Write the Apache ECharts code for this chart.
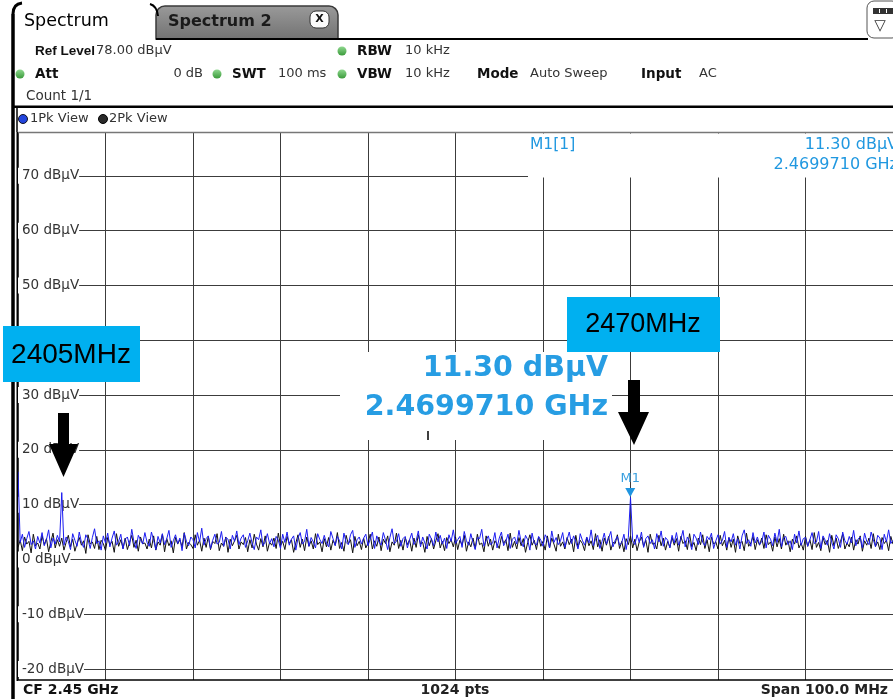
<!DOCTYPE html>
<html><head><meta charset="utf-8">
<script src="https://cdn.jsdelivr.net/npm/echarts@6/dist/echarts.min.js"></script>
<style>html,body{margin:0;padding:0;background:#fff;overflow:hidden}#c{width:893px;height:699px}</style>
</head><body><div id="c"></div><script>
// Sweep: CF 2.45 GHz, span 100 MHz, trace points every 0.25 MHz
const FREQ_START_MHZ = 2400;
const FREQ_STOP_MHZ = 2500;
const FREQ_STEP_MHZ = 0.25;
const FREQ_GRID_MHZ = 10;
const REF_LEVEL = 78;
const BOTTOM_LEVEL = -22;
const Y_TICKS = [-20, -10, 0, 10, 20, 30, 40, 50, 60, 70];
const Y_UNIT = 'dBµV';

// Trace 1: 1Pk View (blue)
const TRACE_1PK = [
16.0,3.1,4.6,2.2,3.8,5.1,2.7,3.4,1.9,4.2,3.0,4.9,2.5,3.6,5.4,2.1,3.9,2.8,4.4,3.2,
12.2,2.6,4.1,3.3,1.8,4.7,3.5,2.4,5.0,3.1,2.2,4.5,3.7,2.0,4.0,5.6,2.9,3.4,1.7,4.3,
3.0,4.8,2.3,3.9,5.2,2.6,3.3,4.6,1.9,3.7,4.1,2.5,5.5,3.2,2.0,4.4,3.6,2.8,4.9,3.1,
2.4,5.0,3.5,1.8,4.2,3.0,4.7,2.7,3.8,5.3,2.2,3.4,4.5,2.9,3.9,1.6,4.8,3.3,2.5,4.1,
3.6,2.1,4.9,3.2,5.7,2.6,3.8,4.3,2.0,3.5,4.6,2.8,3.1,5.1,2.4,4.0,3.7,1.9,4.4,3.3,
5.2,2.7,3.9,4.5,2.2,3.4,4.8,3.0,1.8,4.1,3.6,5.4,2.5,3.2,4.7,2.9,3.8,2.3,4.2,3.5,
2.0,4.6,3.1,5.0,2.6,3.7,4.3,1.7,3.9,4.9,2.8,3.3,5.5,2.4,4.0,3.2,2.1,4.7,3.6,2.9,
4.4,3.0,2.3,5.1,3.8,2.5,4.2,3.4,1.9,4.8,3.1,2.7,4.5,5.3,2.2,3.6,4.1,2.8,3.9,4.6,
2.5,3.7,5.0,2.0,4.3,3.2,2.6,4.9,3.5,1.8,4.0,5.6,2.9,3.3,4.7,2.4,3.8,4.2,2.1,3.6,
4.8,2.7,3.4,5.2,2.3,4.1,3.0,1.9,4.6,3.7,2.5,5.0,3.2,4.4,2.8,3.9,2.0,4.5,3.3,5.4,
2.9,3.6,4.2,2.2,5.1,3.4,2.6,4.7,3.1,1.8,4.0,3.8,5.5,2.4,3.5,4.3,2.7,3.0,4.9,2.1,
3.9,5.0,2.5,3.3,4.6,2.0,3.7,4.1,2.8,5.3,3.2,2.3,4.4,3.6,1.7,4.8,3.0,2.6,4.2,3.5,
2.4,4.5,3.8,2.1,5.2,3.1,4.0,2.7,3.4,4.9,2.2,3.6,5.0,2.9,4.3,3.2,1.9,4.7,3.5,2.6,
4.1,3.0,5.4,2.5,3.7,4.4,2.0,3.3,4.8,2.8,3.9,5.1,2.3,3.5,4.2,2.6,3.1,4.6,1.8,4.0,
11.3,3.4,2.7,4.5,3.1,5.0,2.2,3.8,4.3,2.9,3.6,1.9,4.7,3.2,5.2,2.4,4.0,3.5,2.1,4.4,
3.0,4.9,2.6,3.7,5.3,2.3,4.1,3.3,1.8,4.6,3.9,2.7,5.0,3.1,2.5,4.2,3.6,4.8,2.0,3.4,
4.5,2.8,3.5,5.1,2.2,4.0,3.2,4.7,2.6,3.8,1.9,4.3,5.4,2.9,3.6,2.4,4.9,3.0,4.1,2.7,
3.3,5.0,2.1,4.4,3.7,2.5,4.8,3.1,5.5,2.3,3.9,4.2,2.7,3.4,1.8,4.6,3.0,5.2,2.6,3.8,
4.0,2.4,3.6,4.9,2.9,3.2,5.1,2.0,4.3,3.5,2.6,4.7,3.1,1.9,4.5,3.8,2.2,5.0,3.4,2.8,
4.2,3.0,5.3,2.5,3.7,4.1,2.1,4.8,3.3,2.7,5.0,3.6,2.3,4.4,3.9,1.8,4.6,3.2,5.4,2.9,
3.5];

// Trace 2: 2Pk View (black)
const TRACE_2PK = [
2.2,3.5,1.6,4.1,2.8,3.3,1.2,4.6,2.5,3.0,1.9,4.3,2.7,3.8,1.4,3.2,4.8,2.1,3.6,2.4,
3.9,1.7,3.1,4.4,2.3,3.7,1.5,2.9,4.0,2.6,3.4,1.1,4.5,2.8,3.2,2.0,4.2,1.8,3.5,2.9,
1.6,4.0,2.7,3.3,1.3,4.7,2.4,3.6,2.0,3.9,1.8,3.1,4.4,2.2,3.5,1.5,4.1,2.9,3.0,1.9,
3.7,2.1,4.3,1.7,3.2,2.6,4.6,1.4,3.8,2.5,3.4,1.2,4.0,2.8,3.6,2.3,4.9,1.9,3.1,2.7,
2.0,4.5,2.6,3.5,1.5,3.9,2.2,4.2,1.8,3.3,2.9,4.7,1.6,3.0,2.4,4.1,1.3,3.7,2.5,3.4,
4.4,1.9,3.2,2.7,4.0,1.4,3.6,2.1,4.6,2.8,1.7,3.8,2.3,4.3,1.5,3.1,2.6,3.9,2.0,4.8,
2.5,3.3,1.8,4.2,2.9,3.6,1.3,3.0,4.5,2.2,3.7,1.6,4.1,2.4,3.4,1.9,4.7,2.7,3.2,1.4,
3.8,2.3,4.0,1.7,3.5,2.6,4.9,2.0,3.1,1.5,4.4,2.8,3.6,1.2,4.2,2.5,3.3,1.8,3.9,2.1,
3.0,4.6,1.9,3.4,2.4,4.1,1.6,3.7,2.9,4.3,1.4,3.2,2.6,4.8,2.0,3.5,1.7,4.0,2.7,3.6,
1.5,3.9,2.2,4.5,2.8,3.1,1.3,4.2,2.5,3.8,1.9,3.4,4.7,2.1,3.3,1.6,4.0,2.9,3.6,2.3,
4.1,1.8,3.5,2.6,4.4,1.5,3.2,2.3,3.9,2.0,4.6,2.7,3.0,1.4,4.3,2.4,3.7,1.7,3.4,2.8,
2.0,4.2,2.9,3.6,1.6,4.8,2.2,3.3,1.9,4.0,2.5,3.8,1.3,3.1,4.5,2.6,3.5,1.8,4.1,2.4,
3.3,1.7,4.3,2.1,3.9,2.8,1.5,4.6,2.4,3.2,1.9,4.0,2.7,3.7,1.4,4.4,2.2,3.5,2.9,1.6,
4.0,2.5,3.4,1.8,4.7,2.3,3.6,1.5,3.9,2.6,4.2,1.7,3.1,2.9,4.5,2.0,3.3,1.4,3.8,2.7,
4.3,2.1,3.7,1.6,3.2,4.1,2.4,3.5,1.3,4.6,2.8,3.0,1.9,4.4,2.5,3.9,1.7,3.3,2.2,4.0,
2.6,3.8,1.5,4.2,2.9,3.4,1.8,4.7,2.3,3.1,1.6,3.9,2.7,4.5,2.0,3.6,1.4,4.1,2.8,3.2,
1.9,4.4,2.5,3.5,1.7,4.0,2.2,3.7,1.3,4.3,2.9,3.3,1.6,4.8,2.4,3.0,4.2,1.8,3.6,2.6,
3.9,2.0,4.5,2.7,3.2,1.5,4.1,2.3,3.8,1.9,4.6,2.6,3.4,1.4,3.7,2.8,4.3,2.1,3.0,1.7,
4.2,2.4,3.6,1.8,4.9,2.2,3.1,1.6,4.0,2.7,3.5,1.3,4.4,2.5,3.9,2.0,3.3,4.6,1.9,3.0,
2.3,4.1,1.7,3.6,2.8,4.3,1.5,3.4,2.6,3.9,2.0,4.7,2.4,3.2,1.8,4.0,2.9,3.5,1.6,4.2,
2.8];

// Marker M1
const MARKER_NAME = 'M1';
const MARKER_FREQ_MHZ = 2469.971;
const MARKER_LEVEL = 11.30;

const toPairs = arr => arr.map((v, i) => [FREQ_START_MHZ + i * FREQ_STEP_MHZ, v]);

const FONT = '"DejaVu Sans", Verdana, sans-serif';
const BLUE_TXT = '#2098e0';

function vgrad(c1, c2) {
  return { type: 'linear', x: 0, y: 0, x2: 0, y2: 1, colorStops: [{ offset: 0, color: c1 }, { offset: 1, color: c2 }] };
}
function txt(text, x, y, size, opts) {
  opts = opts || {};
  return {
    type: 'text', z: 50, silent: true,
    style: {
      text: text, x: x, y: y,
      font: (opts.bold ? 'bold ' : '') + size + 'px ' + (opts.family || FONT),
      fill: opts.color || '#222',
      align: opts.align || 'left',
      verticalAlign: 'middle'
    }
  };
}
function rect(x, y, w, h, fill, extra) {
  return Object.assign({ type: 'rect', z: 40, silent: true, shape: { x: x, y: y, width: w, height: h }, style: { fill: fill } }, extra || {});
}
function line(x1, y1, x2, y2, color, w, z) {
  return { type: 'line', z: z || 45, silent: true, shape: { x1: x1, y1: y1, x2: x2, y2: y2 }, style: { stroke: color, lineWidth: w } };
}
function curve(x1, y1, cx, cy, x2, y2, color, w) {
  return { type: 'bezierCurve', z: 45, silent: true, shape: { x1: x1, y1: y1, cpx1: cx, cpy1: cy, x2: x2, y2: y2 }, style: { stroke: color, lineWidth: w, fill: null } };
}
function dot(cx, cy, fill, stroke) {
  return { type: 'circle', z: 50, silent: true, shape: { cx: cx, cy: cy, r: 4.5 }, style: { fill: fill, stroke: stroke || null, lineWidth: 1 } };
}
const green = vgrad('#8fd88f', '#3a9a3a');

const graphics = [
  // outer frame left
  line(13, 14, 13, 699, '#000', 3.5),
  curve(13, 14, 13, 4, 22, 3, '#000', 3),
  curve(150, 4, 157, 6, 158, 16, '#000', 2),
  // tab 2
  { type: 'rect', z: 40, silent: true, shape: { x: 156, y: 6, width: 182, height: 33, r: [9, 9, 0, 0] },
    style: { fill: vgrad('#9a9a9a', '#727272'), stroke: '#3a3a3a', lineWidth: 1.5 } },
  txt('Spectrum 2', 168, 22, 16, { bold: true, color: '#1a1a1a' }),
  { type: 'rect', z: 50, silent: true, shape: { x: 310, y: 11, width: 19, height: 17, r: 6 }, style: { fill: '#fafafa', stroke: '#333', lineWidth: 1 } },
  txt('X', 319.5, 19.5, 11, { bold: true, align: 'center', color: '#111' }),
  txt('Spectrum', 24, 21, 17.5, { color: '#000' }),
  line(156, 39, 868, 39, '#000', 2),
  // top right icon
  { type: 'rect', z: 45, silent: true, shape: { x: 867, y: 1, width: 32, height: 37, r: 7 }, style: { fill: '#fff', stroke: '#555', lineWidth: 1 } },
  rect(873, 8, 22, 6, '#333', { z: 50 }),
  rect(879, 9, 1, 4, '#fff', { z: 51 }), rect(886, 9, 1, 4, '#fff', { z: 51 }),
  txt('▽', 880, 26, 15, { color: '#333', align: 'center' }),
  // header info
  txt('Ref Level', 35, 51, 13.5, { bold: true, color: '#111', family: '"Liberation Sans", Arial, sans-serif' }),
  txt('78.00 dBµV', 96, 51, 13, { color: '#333' }),
  dot(342, 51, green), txt('RBW', 357, 51, 13.5, { bold: true, color: '#111' }), txt('10 kHz', 405, 51, 13, { color: '#333' }),
  dot(20, 74, green), txt('Att', 35, 74, 13.5, { bold: true, color: '#111' }),
  txt('0 dB', 203, 74, 13, { color: '#333', align: 'right' }),
  dot(217, 74, green), txt('SWT', 232, 74, 13.5, { bold: true, color: '#111' }), txt('100 ms', 278, 74, 13, { color: '#333' }),
  dot(342, 74, green), txt('VBW', 357, 74, 13.5, { bold: true, color: '#111' }), txt('10 kHz', 405, 74, 13, { color: '#333' }),
  txt('Mode', 477, 74, 13.5, { bold: true, color: '#111' }), txt('Auto Sweep', 530, 74, 13, { color: '#333' }),
  txt('Input', 641, 74, 13.5, { bold: true, color: '#111' }), txt('AC', 699, 74, 13, { color: '#333' }),
  txt('Count 1/1', 26, 96, 13.5, { color: '#333' }),
  rect(12, 105.5, 881, 2.5, '#000', { z: 45 }),
  line(17, 108, 17, 132, '#000', 1.5),
  dot(23, 119, '#2244dd', '#112'), txt('1Pk View', 30, 119, 13, { color: '#333' }),
  dot(103, 119, '#2a2a2a', '#000'), txt('2Pk View', 109, 119, 13, { color: '#333' }),
  // plot frame
  line(17, 132.5, 893, 132.5, '#777', 1.5),
  line(17.25, 132, 17.25, 681, '#000', 1.5),
  line(17, 680, 893, 680, '#000', 1.5),
  // bottom bar
  txt('CF 2.45 GHz', 23, 690, 14, { bold: true, color: '#111' }),
  txt('1024 pts', 455, 690, 14, { bold: true, color: '#222', align: 'center' }),
  txt('Span 100.0 MHz', 888, 690, 14, { bold: true, color: '#222', align: 'right' }),
  // marker info box
  rect(528, 133.5, 370, 44, '#fff', { z: 40 }),
  txt('M1[1]', 530, 145, 15.5, { color: BLUE_TXT }),
  txt(MARKER_LEVEL.toFixed(2) + ' ' + Y_UNIT, 898, 145, 16, { color: BLUE_TXT, align: 'right' }),
  txt((MARKER_FREQ_MHZ / 1000).toFixed(7) + ' GHz', 898, 165, 16, { color: BLUE_TXT, align: 'right' }),
  // big marker readout
  rect(340, 352, 272, 88, '#fff', { z: 40 }),
  txt(MARKER_LEVEL.toFixed(2) + ' ' + Y_UNIT, 608, 369, 28.5, { bold: true, color: '#279de3', align: 'right' }),
  txt((MARKER_FREQ_MHZ / 1000).toFixed(7) + ' GHz', 608, 408, 28.5, { bold: true, color: '#279de3', align: 'right' }),
  line(428, 431, 428, 440, '#000', 1.5),
  // annotation boxes
  rect(3, 326, 137, 56, '#00b0f0', { z: 60 }),
  Object.assign(txt('2405MHz', 71, 355, 28, { family: '"Liberation Sans", Arial, sans-serif', color: '#000', align: 'center' }), { z: 61 }),
  rect(567, 297, 153, 55, '#00b0f0', { z: 60 }),
  Object.assign(txt('2470MHz', 643, 325, 27, { family: '"Liberation Sans", Arial, sans-serif', color: '#000', align: 'center' }), { z: 61 }),
  // arrows
  { type: 'polygon', z: 60, silent: true, shape: { points: [[58, 413], [69, 413], [69, 444], [78, 444], [63.5, 477], [49, 444], [58, 444]] }, style: { fill: '#000' } },
  { type: 'polygon', z: 60, silent: true, shape: { points: [[628, 380], [640, 380], [640, 412], [649, 412], [634, 445], [618, 412], [628, 412]] }, style: { fill: '#000' } }
];

const chart = echarts.init(document.getElementById('c'), null, { renderer: 'canvas' });
chart.setOption({
  animation: false,
  backgroundColor: '#fff',
  grid: { left: 18, top: 132, width: 880, height: 548, show: false },
  xAxis: {
    type: 'value', min: FREQ_START_MHZ, max: FREQ_STOP_MHZ, interval: FREQ_GRID_MHZ,
    axisLine: { show: false }, axisTick: { show: false }, axisLabel: { show: false },
    splitLine: { show: true, lineStyle: { color: '#3c3c3c', width: 1 } }
  },
  yAxis: {
    type: 'value', min: BOTTOM_LEVEL, max: REF_LEVEL,
    axisLine: { show: false },
    axisTick: { show: false, customValues: Y_TICKS },
    axisLabel: {
      inside: true, customValues: Y_TICKS, margin: 0,
      formatter: v => v + ' ' + Y_UNIT,
      color: '#333', fontSize: 13.5, fontFamily: FONT,
      backgroundColor: '#fff', padding: [1, 0, 1, 4]
    },
    splitLine: { show: true, lineStyle: { color: '#3c3c3c', width: 1 } }
  },
  series: [
    {
      name: '2Pk View', type: 'line', data: toPairs(TRACE_2PK), showSymbol: false, z: 3,
      lineStyle: { color: '#111', width: 1 }, silent: true
    },
    {
      name: '1Pk View', type: 'line', data: toPairs(TRACE_1PK), showSymbol: false, z: 4,
      lineStyle: { color: '#1c1cf0', width: 1 }, silent: true,
      markPoint: {
        symbol: 'triangle', symbolRotate: 180, symbolSize: [10, 9], symbolOffset: [0, -5],
        itemStyle: { color: '#1f95e0' },
        label: { show: true, position: 'top', distance: 3, formatter: MARKER_NAME, color: '#3aa0e0', fontSize: 13, fontFamily: FONT },
        data: [{ coord: [MARKER_FREQ_MHZ, MARKER_LEVEL] }]
      }
    }
  ],
  graphic: graphics
});
</script></body></html>
